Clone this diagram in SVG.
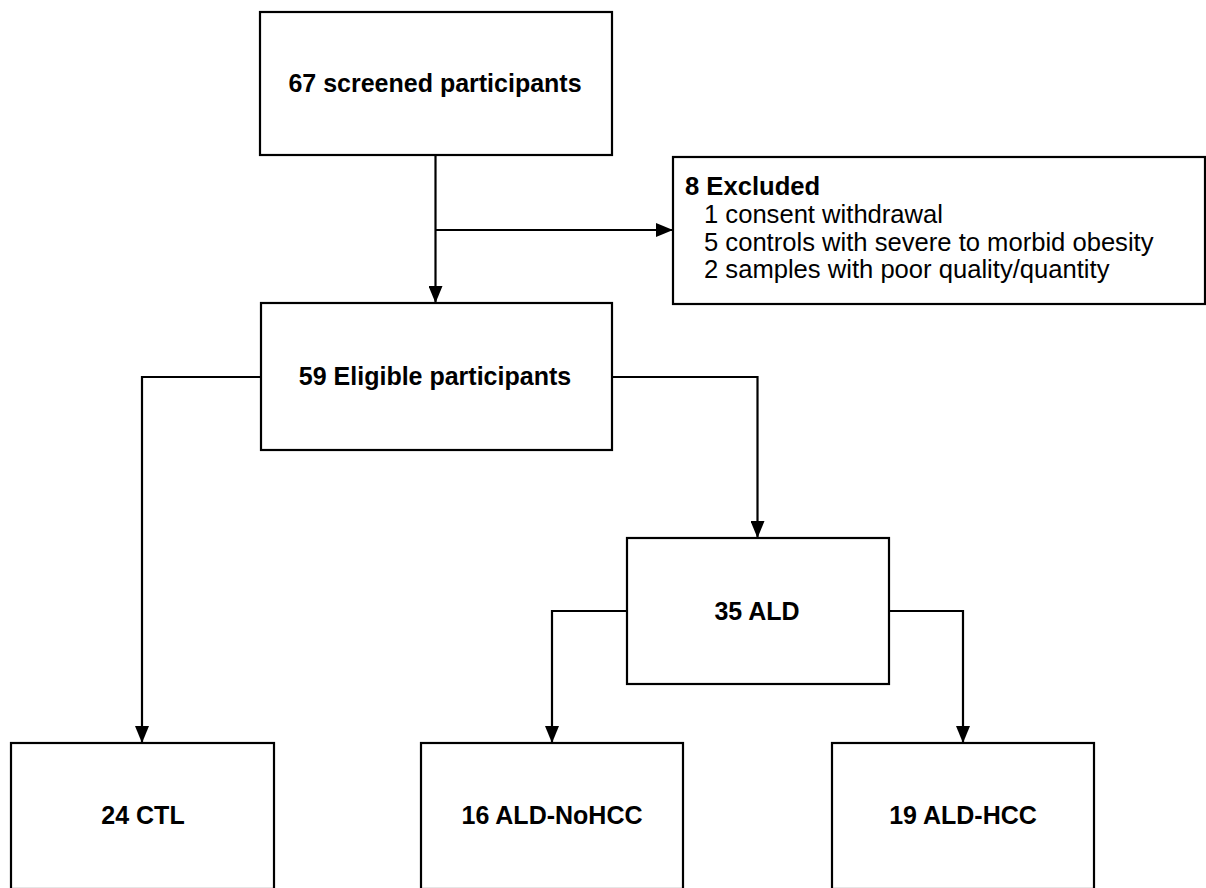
<svg xmlns="http://www.w3.org/2000/svg" width="1206" height="888" viewBox="0 0 1206 888">
<style>
.box{fill:#fff;stroke:#000;stroke-width:2.2}
.t{font-family:"Liberation Sans",Arial,sans-serif;font-size:25px;font-weight:bold;text-anchor:middle;fill:#000}
.e{font-family:"Liberation Sans",Arial,sans-serif;font-size:25.6px;fill:#000}
.c{fill:none;stroke:#000;stroke-width:2.2}
</style>
<defs>
<marker id="arr" markerUnits="userSpaceOnUse" markerWidth="17" markerHeight="14" refX="17" refY="7" orient="auto">
<path d="M0,0 L17,7 L0,14 z" fill="#000"/>
</marker>
</defs>
<rect width="1206" height="888" fill="#fff"/>
<g id="connectors">
<path class="c" d="M435.5,155 V303" marker-end="url(#arr)"/>
<path class="c" d="M435.5,230 H673" marker-end="url(#arr)"/>
<path class="c" d="M261,377 H142 V743" marker-end="url(#arr)"/>
<path class="c" d="M612,377 H757.5 V538" marker-end="url(#arr)"/>
<path class="c" d="M627,611 H552 V743" marker-end="url(#arr)"/>
<path class="c" d="M889,611 H963 V743" marker-end="url(#arr)"/>
</g>
<g id="screened">
<rect class="box" x="260" y="12" width="352" height="143"/>
<text class="t" x="435" y="92">67 screened participants</text>
</g>
<g id="excluded">
<rect class="box" x="673" y="157" width="532" height="147"/>
<text class="e" x="685" y="195" font-weight="bold" font-size="25">8 Excluded</text>
<text class="e" x="704" y="223">1 consent withdrawal</text>
<text class="e" x="704" y="251">5 controls with severe to morbid obesity</text>
<text class="e" x="704" y="278">2 samples with poor quality/quantity</text>
</g>
<g id="eligible">
<rect class="box" x="261" y="303" width="351" height="147"/>
<text class="t" x="435" y="385">59 Eligible participants</text>
</g>
<g id="ald">
<rect class="box" x="627" y="538" width="262" height="146"/>
<text class="t" x="757" y="620">35 ALD</text>
</g>
<g id="ctl">
<rect class="box" x="11" y="743" width="263" height="146"/>
<text class="t" x="143" y="824">24 CTL</text>
</g>
<g id="noHCC">
<rect class="box" x="421" y="743" width="262" height="146"/>
<text class="t" x="552" y="824">16 ALD-NoHCC</text>
</g>
<g id="HCC">
<rect class="box" x="832" y="743" width="262" height="146"/>
<text class="t" x="963" y="824">19 ALD-HCC</text>
</g>
</svg>
